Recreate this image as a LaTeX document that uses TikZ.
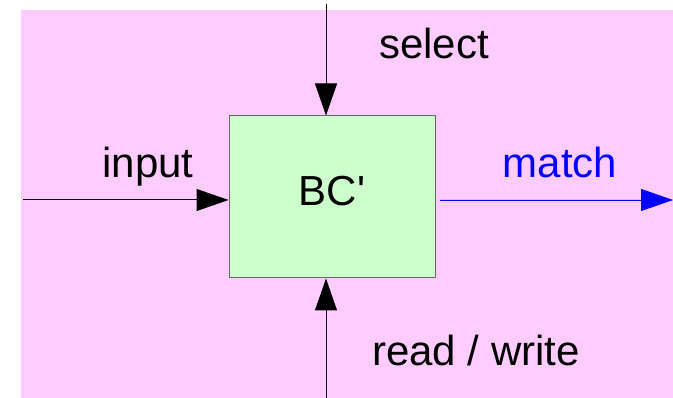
\documentclass[tikz,border=0pt]{standalone}
\usepackage{fontspec}
\setmainfont{Liberation Sans}
\usetikzlibrary{arrows.meta,positioning,calc}
\definecolor{bgPink}{HTML}{FFCCFF}
\definecolor{boxGreen}{HTML}{CCFFCC}
\definecolor{edgeGray}{HTML}{666666}
\definecolor{matchBlue}{HTML}{0000FF}

\begin{document}
\begin{tikzpicture}[
      x=1pt, y=1pt,
      block/.style={
        rectangle, fill=boxGreen, draw=edgeGray, line width=1pt,
        minimum width=206pt, minimum height=162pt, inner sep=0pt,
        text height=30pt, text depth=12pt,
        font=\fontsize{42pt}{48pt}\selectfont
      },
      lbl/.style={inner sep=0pt, anchor=base, font=\fontsize{42pt}{48pt}\selectfont},
      arrow/.style={-{Triangle[length=32pt,width=22pt]}, draw=black, line width=1pt}
    ]
      \useasboundingbox (0,0) rectangle (673,398);
      \fill[bgPink] (21,0) rectangle (673,388);

      \node[block] (bc) at (332,201) {BC\textquotesingle};

      \coordinate (selTop) at (326,394);
      \coordinate (rwBot) at (326,0);
      \coordinate (inL) at (23,198);
      \coordinate (matchR) at (673,198);

      \draw[arrow] (selTop) -- (selTop |- bc.north);
      \draw[arrow] (rwBot) -- (rwBot |- bc.south);
      \draw[arrow] (inL) -- (inL -| bc.west);
      \draw[arrow, draw=matchBlue, fill=matchBlue, line width=0.8pt, shorten <=4pt] (matchR -| bc.east) -- (matchR);

      \node[lbl] (sel) at (434,339) {select};
      \node[lbl] (in) at (148,220) {input};
      \node[lbl, text=matchBlue] (match) at (560,220) {match};
      \node[lbl] (rw) at (476,32) {read / write};
    \end{tikzpicture}
\end{document}
